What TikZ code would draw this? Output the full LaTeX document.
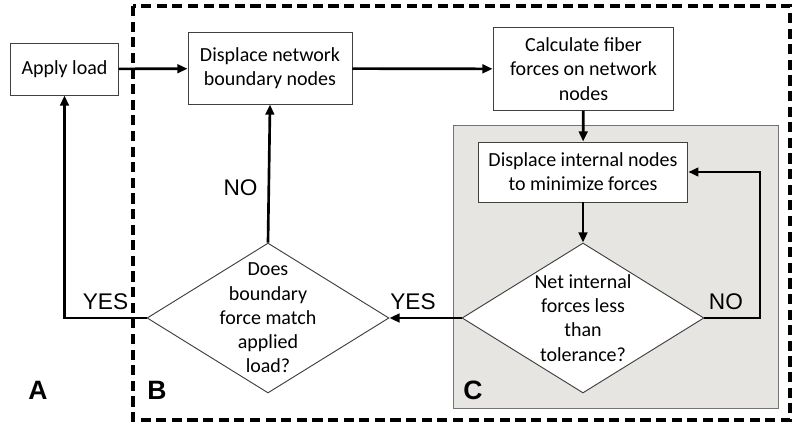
\documentclass[tikz,border=0pt]{standalone}
\usepackage{fontspec}
\setmainfont{Carlito}
\newfontfamily\arialfont{Liberation Sans}
\usepackage{tikz}
\usetikzlibrary{shapes.geometric,arrows.meta}

\definecolor{paper}{RGB}{230,229,226}

\begin{document}
\begin{tikzpicture}[x=0.0225cm,y=-0.0225cm,
    box/.style={draw=black!75,line width=0.6pt,fill=white,align=center,
      font=\fontsize{12.8}{15.5}\selectfont,inner sep=0pt},
    decision/.style={diamond,draw=black!75,line width=0.6pt,fill=white,
      inner sep=0pt,minimum width=5.445cm,minimum height=3.375cm},
    words/.style={align=center,font=\fontsize{12.8}{15.5}\selectfont},
    flow/.style={line width=1.7pt,-{Triangle[length=6.5pt,width=5.5pt]}},
    answer/.style={font=\arialfont\fontsize{14.5}{14.5}\selectfont},
    part/.style={font=\arialfont\bfseries\fontsize{17}{17}\selectfont}]
    \useasboundingbox (0,0) rectangle (800,429);

    \draw[line width=2.2pt,dash pattern=on 6.5pt off 3.5pt] (133,6) rectangle (790,420);
    \draw[draw=black!55,line width=0.6pt,fill=paper] (453,125) rectangle (778,408);

    \node[box,minimum width=2.41cm,minimum height=1.17cm] (apply) at (64.5,69) {Apply load};
    \node[box,minimum width=3.69cm,minimum height=1.6cm] (boundary) at (270,68.5) {Displace network\\boundary nodes};
    \node[box,minimum width=4.07cm,minimum height=1.85cm] (fiber) at (583.5,69) {Calculate fiber\\forces on network\\nodes};
    \node[box,minimum width=4.72cm,minimum height=1.35cm] (internal) at (583,172) {Displace internal nodes\\to minimize forces};

    \node[decision] (tol) at (583,318) {};
    \node[words] (toltext) at (tol.center) {Net internal\\forces less\\than\\tolerance?};
    \node[decision] (match) at (268,318) {};
    \node[words] (matchtext) at (match.center) {Does\\boundary\\force match\\applied\\load?};

    \coordinate (loop) at (760,318);

    \draw[flow] (apply) -- (boundary);
    \draw[flow] (boundary) -- (fiber);
    \draw[flow] (fiber) -- (internal);
    \draw[flow] (internal) -- (tol.north);
    \draw[flow] (tol.east) -- node[answer,above=1pt,xshift=-4pt] {NO} (loop) |- (internal.east);
    \draw[flow] (tol.west) -- node[answer,above=1pt,xshift=-8pt] {YES} (match.east);
    \draw[flow] (match.north) -- node[answer,left=3pt,pos=0.4] {NO} (boundary.south);
    \draw[flow] (match.west) -| node[answer,above=1pt,pos=0.25] {YES} (apply.south);

    \node[part] (A) at (38,390) {A};
    \node[part] (B) at (157,390) {B};
    \node[part] (C) at (473,390) {C};
\end{tikzpicture}
\end{document}
